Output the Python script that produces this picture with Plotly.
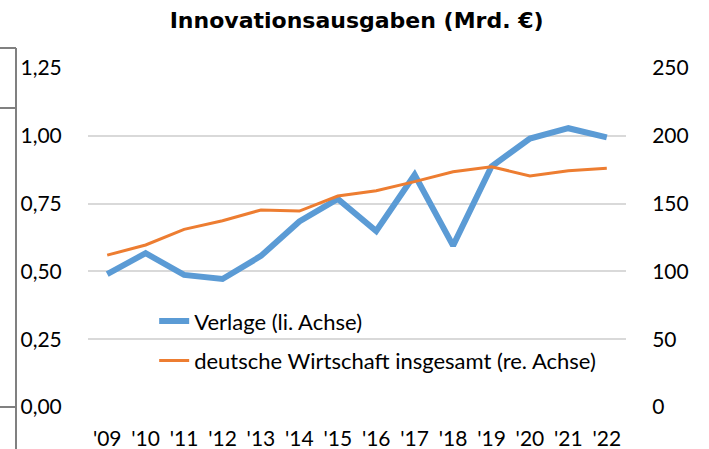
import plotly.graph_objects as go

years = ["'09", "'10", "'11", "'12", "'13", "'14", "'15", "'16", "'17", "'18", "'19", "'20", "'21", "'22"]
verlage = [0.49, 0.567, 0.487, 0.472, 0.557, 0.684, 0.767, 0.649, 0.856, 0.595, 0.887, 0.99, 1.028, 0.994]
wirtschaft = [112, 119.5, 131, 137.4, 145.3, 144.5, 155.6, 159.5, 166.2, 173.5, 177.2, 170.4, 174.3, 176]
left_ticks = [0, 0.25, 0.5, 0.75, 1.0, 1.25]
left_labels = ["0,00", "0,25", "0,50", "0,75", "1,00", "1,25"]
right_ticks = [0, 50, 100, 150, 200, 250]

FONT = "Lato"
FS = 21
W, H = 709, 449
ml, mr, mt, mb = 88, 83, 68, 42

fig = go.Figure()
fig.add_trace(go.Scatter(x=years, y=verlage, name="Verlage (li. Achse)", mode="lines",
                         line=dict(color="#5B9BD5", width=6), legendgroup="a"))
fig.add_trace(go.Scatter(x=years, y=wirtschaft, name="deutsche Wirtschaft insgesamt (re. Achse)", mode="lines",
                         line=dict(color="#ED7D31", width=3), yaxis="y2", legendgroup="b"))

grid = "#D9D9D9"
fig.update_layout(
    width=W, height=H,
    margin=dict(l=ml, r=mr, t=mt, b=mb, autoexpand=False),
    paper_bgcolor="white", plot_bgcolor="white",
    font=dict(family=FONT, size=FS, color="#000000"),
    title=dict(text="<b>Innovationsausgaben (Mrd. €)</b>", x=0.503, xanchor="center",
               y=1 - 20 / H, yanchor="middle",
               font=dict(family="DejaVu Sans", size=22, color="#000000")),
    xaxis=dict(type="category", range=[-0.5, 13.5], showgrid=False, showline=False, zeroline=False,
               ticks="outside", ticklen=13, tickcolor="rgba(0,0,0,0)", tickfont=dict(size=FS)),
    yaxis=dict(range=[0, 1.25], tickvals=left_ticks, ticktext=left_labels, showgrid=True, gridcolor=grid,
               gridwidth=1.5, zeroline=False, showline=False, ticks="outside", ticklen=21,
               tickcolor="rgba(0,0,0,0)", tickfont=dict(size=FS)),
    yaxis2=dict(range=[0, 250], tickvals=right_ticks, overlaying="y", side="right", showgrid=False,
                zeroline=False, showline=False, ticks="outside", ticklen=21, tickcolor="rgba(0,0,0,0)",
                tickfont=dict(size=FS)),
    legend=dict(x=0.123, y=0.315, xanchor="left", yanchor="top", bgcolor="rgba(0,0,0,0)",
                tracegroupgap=8, font=dict(size=22), itemwidth=30),
    showlegend=True,
)

# decorative bracket lines at the left edge (from the source layout)
def px(x):
    return (x - ml) / (W - ml - mr)
def py(y):
    return (H - mb - y) / (H - mt - mb)
lc = "#808080"
fig.add_shape(type="line", xref="paper", yref="paper", x0=px(16), x1=px(16), y0=py(48), y1=py(449),
              line=dict(color=lc, width=2))
for yy in (48, 108, 407):
    fig.add_shape(type="line", xref="paper", yref="paper", x0=px(0), x1=px(16), y0=py(yy), y1=py(yy),
                  line=dict(color=lc, width=2))

fig.write_html("out.html", config={"displayModeBar": False},
               post_script="document.body.style.margin='0';")
